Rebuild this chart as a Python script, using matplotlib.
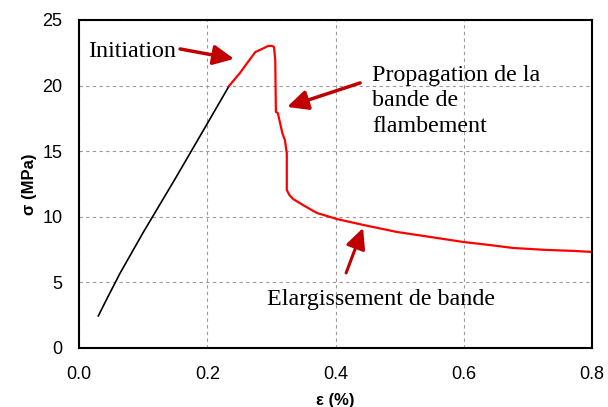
import numpy as np
import matplotlib
matplotlib.use("Agg")
import matplotlib.pyplot as plt

# elastic part (black)
eps_elastic = [0.030, 0.045, 0.064, 0.100, 0.150, 0.200, 0.234]
sig_elastic = [2.44, 3.9, 5.7, 8.8, 12.9, 17.1, 19.97]

# initiation / propagation / widening (red)
eps_red = [0.234, 0.251, 0.265, 0.275, 0.282, 0.288, 0.295, 0.301, 0.304, 0.306,
           0.307, 0.310, 0.317, 0.321, 0.324, 0.324, 0.328, 0.334, 0.349, 0.371,
           0.402, 0.443, 0.496, 0.548, 0.599, 0.640, 0.677, 0.730, 0.770, 0.800]
sig_red = [19.97, 20.96, 21.9, 22.56, 22.71, 22.85, 23.02, 23.02, 22.94, 21.95,
           17.99, 17.91, 16.39, 15.85, 14.86, 12.04, 11.66, 11.35, 10.90, 10.29,
           9.83, 9.38, 8.84, 8.46, 8.08, 7.85, 7.62, 7.47, 7.40, 7.32]

arrow_red = "#C00000"
serif = ["Liberation Serif", "DejaVu Serif"]
sans = ["Liberation Sans", "DejaVu Sans"]

fig = plt.figure(figsize=(6.08, 4.07), dpi=100)
ax = fig.add_axes([0.130, 0.145, 0.8437, 0.806])

ax.plot(eps_elastic, sig_elastic, color="black", lw=1.2)
ax.plot(eps_red, sig_red, color="#FF0000", lw=1.6)

ax.set_xlim(0, 0.8)
ax.set_ylim(0, 25)
ax.set_xticks([0.0, 0.2, 0.4, 0.6, 0.8])
ax.set_yticks([0, 5, 10, 15, 20, 25])
ax.xaxis.set_major_formatter(matplotlib.ticker.FormatStrFormatter("%.1f"))
ax.grid(True, color="#999999", ls=(0, (3, 3)), lw=0.8)
ax.tick_params(length=0, labelsize=13, pad=12)
ax.tick_params(axis="x", pad=13)
for lab in ax.get_xticklabels() + ax.get_yticklabels():
    lab.set_family(sans)
for s in ax.spines.values():
    s.set_linewidth(1.5)

ax.set_xlabel("ε (%)", fontsize=12, fontweight="bold", family=sans, labelpad=7)
ax.set_ylabel("σ (MPa)", fontsize=12, fontweight="bold", family=sans, labelpad=4)

arrow = dict(arrowstyle="-|>,head_length=1.25,head_width=0.6",
             color=arrow_red, lw=2.5, shrinkA=0, shrinkB=0)

ax.text(0.014, 22.18, "Initiation", fontsize=17.3, family=serif, va="baseline")
ax.annotate("", xy=(0.2418, 22.03), xytext=(0.1576, 22.79), arrowprops=arrow)

ax.text(0.457, 21.6, "Propagation de la\nbande de\nflambement", fontsize=17.3,
        family=serif, va="top", linespacing=1.3)
ax.annotate("", xy=(0.3245, 18.37), xytext=(0.4384, 20.2), arrowprops=arrow)

ax.text(0.293, 3.28, "Elargissement de bande", fontsize=17.3, family=serif,
        va="baseline")
ax.annotate("", xy=(0.443, 9.15), xytext=(0.4165, 5.72),
            arrowprops=dict(arrow, lw=2.2))

fig.savefig("out.png", dpi=100)
